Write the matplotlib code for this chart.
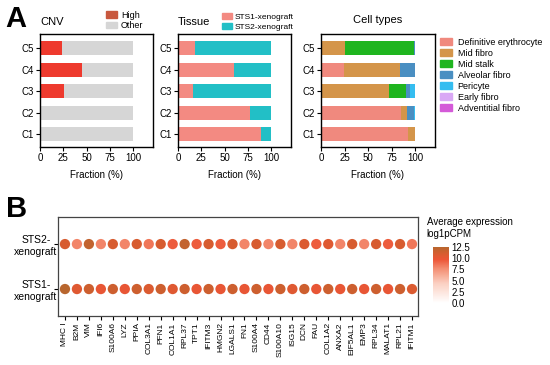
import numpy as np
import matplotlib
matplotlib.use("Agg")
import matplotlib.pyplot as plt
from matplotlib.colors import LinearSegmentedColormap
from matplotlib.patches import Patch

plt.rcParams['font.family'] = ['Liberation Sans', 'DejaVu Sans']

clusters = ["C1", "C2", "C3", "C4", "C5"]

# CNV fractions (%)
cnv_high = [1, 0, 26, 45, 24]
cnv_other = [99, 100, 74, 55, 76]

# Tissue fractions (%)
tissue_sts1 = [89, 77, 16, 60, 18]
tissue_sts2 = [11, 23, 84, 40, 82]

# Cell type fractions (%)
cell_names = ["Definitive erythrocyte", "Mid fibro", "Mid stalk", "Alveolar fibro",
              "Pericyte", "Early fibro", "Adventitial fibro"]
cell_def_ery = [93, 85, 0, 24, 0]
cell_mid_fibro = [7, 6, 72, 60, 26]
cell_mid_stalk = [0, 0, 18, 0, 73]
cell_alveolar = [0, 8, 5, 16, 0.5]
cell_pericyte = [0, 1, 5, 0, 0.5]
cell_early = [0, 0, 0, 0, 0]
cell_advent = [0, 0, 0, 0, 0]
cell_colors = ["#F0897E", "#D4954A", "#1FB51F", "#4A8FC2", "#35BDF0", "#D9A8F5", "#D45AD8"]

# Dot plot (log1pCPM)
genes = ["MHC I", "B2M", "VIM", "IFI6", "S100A6", "LYZ", "PPIA", "COL3A1", "PFN1", "COL1A1",
         "RPL37", "TPT1", "IFITM3", "HMGN2", "LGALS1", "FN1", "S100A4", "CD44", "S100A10", "ISG15",
         "DCN", "FAU", "COL1A2", "ANXA2", "EIF5AL1", "EMP3", "RPL34", "MALAT1", "RPL21", "IFITM1"]
groups = ["STS1-\nxenograft", "STS2-\nxenograft"]
expr_sts1 = [12.5, 10.5, 11.5, 10, 11.5, 10, 11.5, 10.8, 11.5, 10.5,
             11.5, 10, 11.5, 10, 11.5, 10, 11.5, 10, 11.5, 10.5,
             11.5, 10, 11.5, 10, 11.5, 10, 11.5, 10, 11.5, 10.8]
expr_sts2 = [11, 8, 12, 8, 11, 8, 11, 8.5, 11, 9.5,
             12, 9.5, 11, 9.5, 11, 8, 11, 8, 11, 8,
             10.8, 9.5, 10.5, 8, 11, 8, 11, 9.5, 11, 8.5]

fig = plt.figure(figsize=(5.5, 3.65), dpi=100, facecolor='w')

bar_h = 0.65
ypos = np.arange(len(clusters))


def style_bar_ax(ax):
    ax.set_xlim(0, 121)
    ax.set_ylim(-0.6, 4.65)
    ax.set_xticks([0, 25, 50, 75, 100])
    ax.set_yticks(ypos)
    ax.set_yticklabels(clusters)
    ax.tick_params(axis='both', labelsize=7, length=3, width=0.8, pad=1.5)
    for s in ax.spines.values():
        s.set_linewidth(1.0)
    ax.set_xlabel('Fraction (%)', fontsize=7, labelpad=5)


# CNV
ax1 = fig.add_axes([0.0727, 0.597, 0.2055, 0.3096])
ax1.barh(ypos, cnv_high, height=bar_h, color="#EE3A2E")
ax1.barh(ypos, cnv_other, left=cnv_high, height=bar_h, color="#D6D6D6")
style_bar_ax(ax1)
ax1.text(0, 1.06, 'CNV', transform=ax1.transAxes, fontsize=8, ha='left', va='bottom')
ax1.legend(handles=[Patch(color="#C8583E", label='High'), Patch(color="#D6D6D6", label='Other')],
           loc='lower left', bbox_to_anchor=(0.55, 1.0), frameon=False, fontsize=6.5,
           handlelength=1.2, handleheight=0.7, handletextpad=0.5, labelspacing=0.2, borderaxespad=0)

# Tissue
ax2 = fig.add_axes([0.3236, 0.597, 0.2055, 0.3096])
ax2.barh(ypos, tissue_sts1, height=bar_h, color="#F38A82")
ax2.barh(ypos, tissue_sts2, left=tissue_sts1, height=bar_h, color="#22BFC6")
style_bar_ax(ax2)
ax2.text(0, 1.06, 'Tissue', transform=ax2.transAxes, fontsize=8, ha='left', va='bottom')
ax2.legend(handles=[Patch(color="#F38A82", label='STS1-xenograft'), Patch(color="#22BFC6", label='STS2-xenograft')],
           loc='lower left', bbox_to_anchor=(0.36, 1.0), frameon=False, fontsize=6,
           handlelength=1.2, handleheight=0.7, handletextpad=0.3, labelspacing=0.2, borderaxespad=0)

# Cell types
ax3 = fig.add_axes([0.5836, 0.597, 0.207, 0.3096])
cell_series = [cell_def_ery, cell_mid_fibro, cell_mid_stalk, cell_alveolar,
               cell_pericyte, cell_early, cell_advent]
left = np.zeros(len(clusters))
for vals, col in zip(cell_series, cell_colors):
    ax3.barh(ypos, vals, left=left, height=bar_h, color=col)
    left += np.array(vals)
style_bar_ax(ax3)
ax3.set_title('Cell types', fontsize=8, pad=8)
ax3.legend(handles=[Patch(color=c, label=n) for n, c in zip(cell_names, cell_colors)],
           loc='upper left', bbox_to_anchor=(1.01, 1.0), frameon=False, fontsize=6.5,
           handlelength=1.4, handleheight=0.7, handletextpad=0.6, labelspacing=0.22, borderaxespad=0)

fig.text(0.01, 0.985, 'A', fontsize=21, fontweight='bold', ha='left', va='top')
fig.text(0.01, 0.465, 'B', fontsize=21, fontweight='bold', ha='left', va='top')

# Dot plot
cmap = LinearSegmentedColormap.from_list(
    'expr', [(0, "#FFFFFF"), (0.35, "#FBD0C2"), (0.62, "#F38C70"), (0.78, "#EC5536"),
             (0.88, "#D85C30"), (1.0, "#B8662E")])
ax4 = fig.add_axes([0.1055, 0.1342, 0.6545, 0.271])
xg = np.arange(len(genes))
xs = np.concatenate([xg, xg])
ys = np.concatenate([np.zeros(len(genes)), np.ones(len(genes))])
cs = np.concatenate([expr_sts1, expr_sts2])
sc = ax4.scatter(xs, ys, c=cs, cmap=cmap, vmin=0, vmax=12.5, s=55, edgecolors='none')
ax4.set_xlim(-0.58, 29.5)
ax4.set_ylim(-0.6, 1.6)
ax4.set_xticks(xg)
ax4.set_xticklabels(genes, rotation=90, fontsize=6)
ax4.set_yticks([0, 1])
ax4.set_yticklabels(groups, fontsize=7.5, ha='center')
ax4.tick_params(axis='y', length=3, pad=13)
ax4.tick_params(axis='x', length=3, pad=1.5)
for s in ax4.spines.values():
    s.set_linewidth(0.9)
    s.set_color('#444444')

cax = fig.add_axes([0.787, 0.170, 0.029, 0.153])
cb = fig.colorbar(sc, cax=cax, ticks=[0, 2.5, 5, 7.5, 10, 12.5])
cb.outline.set_visible(False)
cb.ax.tick_params(labelsize=7, length=0, pad=2)
fig.text(0.776, 0.345, 'Average expression\nlog1pCPM', fontsize=7, ha='left', va='bottom',
         linespacing=1.2)

plt.savefig('out.png', dpi=100)
